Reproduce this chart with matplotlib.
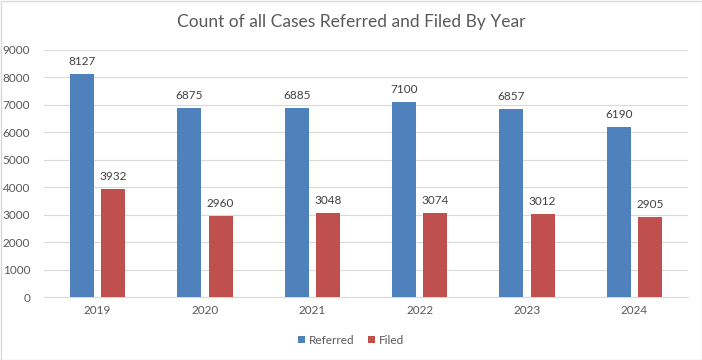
import matplotlib
matplotlib.use("Agg")
import matplotlib.pyplot as plt
import numpy as np

plt.rcParams['font.family'] = ['Lato', 'DejaVu Sans']

years = ["2019", "2020", "2021", "2022", "2023", "2024"]
referred = [8127, 6875, 6885, 7100, 6857, 6190]
filed = [3932, 2960, 3048, 3074, 3012, 2905]

fig = plt.figure(figsize=(7.02, 3.6), dpi=100)
ax = fig.add_axes([44/702, 1-297/360, (688-44)/702, (297-50)/360])

x = np.arange(len(years))
w = 0.224
off = 0.145
c_ref = "#4f81bd"
c_fil = "#c0504d"
b1 = ax.bar(x - off, referred, w, color=c_ref, label="Referred", zorder=3)
b2 = ax.bar(x + off, filed, w, color=c_fil, label="Filed", zorder=3)

for bars, vals in ((b1, referred), (b2, filed)):
    for b, v in zip(bars, vals):
        ax.annotate(str(v), (b.get_x() + b.get_width()/2, v), xytext=(0, 5),
                    textcoords="offset points", ha="center", va="bottom",
                    fontsize=8.5, color="#404040")

ax.set_xlim(-0.5, 5.5)
ax.set_ylim(0, 9000)
ax.set_yticks(range(0, 9001, 1000))
ax.set_xticks(x)
ax.set_xticklabels(years)
ax.grid(axis="y", color="#d9d9d9", linewidth=0.8, zorder=0)
for s in ax.spines.values():
    s.set_visible(False)
ax.spines["bottom"].set_visible(True)
ax.spines["bottom"].set_color("#d9d9d9")
ax.tick_params(axis="both", length=0, labelsize=8.5, colors="#595959", pad=6)
ax.tick_params(axis="y", pad=10)

fig.text(0.5, 1-22/360, "Count of all Cases Referred and Filed By Year",
         ha="center", va="center", fontsize=12.5, color="#595959")

leg = fig.legend(handles=[b1, b2], labels=["Referred", "Filed"], loc="center",
                 bbox_to_anchor=(0.5, 1-340/360), ncol=2, frameon=False,
                 fontsize=8.5, handlelength=0.6, handleheight=0.6,
                 handletextpad=0.3, columnspacing=1.2)
for t in leg.get_texts():
    t.set_color("#595959")

fig.patches.append(plt.Rectangle((0.5/702, 0.5/360), 1-1/702, 1-1/360,
                                 transform=fig.transFigure, fill=False,
                                 edgecolor="#d9d9d9", linewidth=1))

fig.savefig("out.png", dpi=100)
